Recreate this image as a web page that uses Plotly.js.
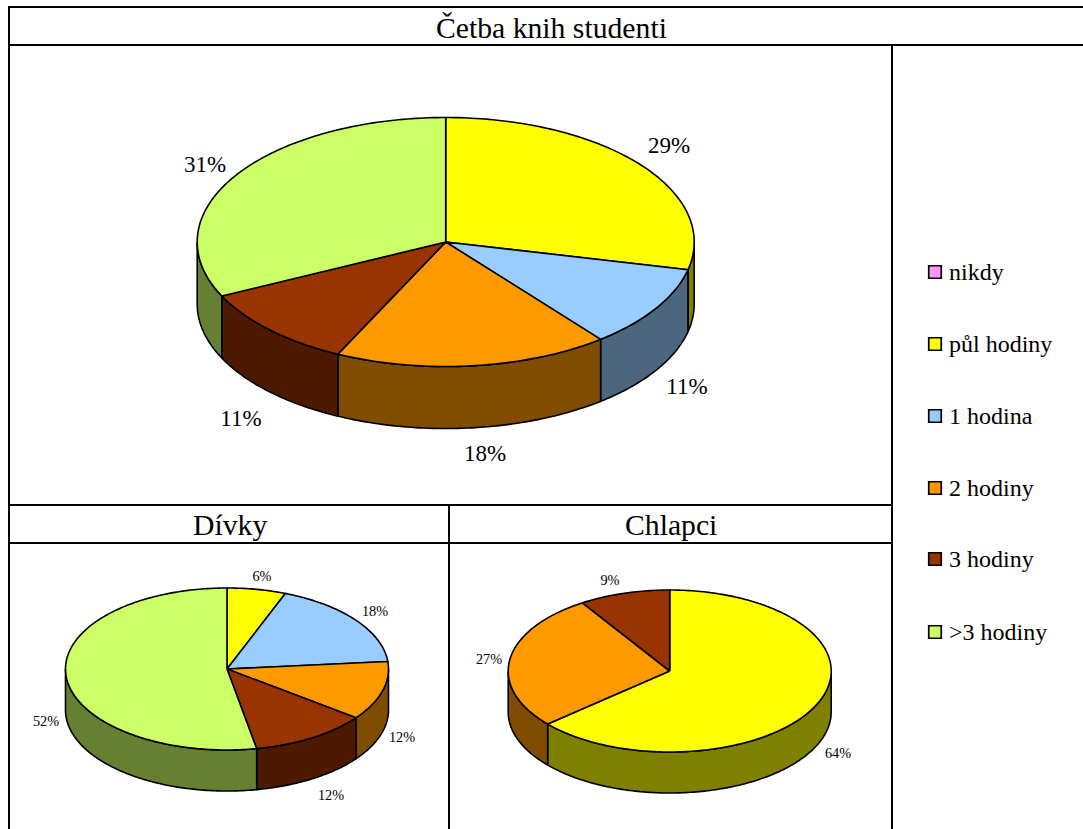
<!DOCTYPE html>
<html>
<head>
<meta charset="utf-8">
<script src="https://cdn.plot.ly/plotly-3.0.1.min.js"></script>
<style>html,body{margin:0;padding:0;background:#fff;overflow:hidden}#chart{width:1083px;height:829px}</style>
</head>
<body>
<div id="chart"></div>
<script>
// ---------- data ----------
const categories = ['nikdy', 'půl hodiny', '1 hodina', '2 hodiny', '3 hodiny', '>3 hodiny'];
const studentsCounts = [0, 8, 3, 5, 3, 9];
const girlsCounts = [0, 1, 3, 2, 2, 9];
const boysCounts = [0, 7, 0, 3, 1, 0];
const studentsLabels = ['', '29%', '11%', '18%', '11%', '31%'];
const girlsLabels = ['', '6%', '18%', '12%', '12%', '52%'];
const boysLabels = ['', '64%', '', '27%', '9%', ''];
const mainTitle = 'Četba knih studenti';
const girlsTitle = 'Dívky';
const boysTitle = 'Chlapci';

// ---------- styles and layout ----------
const topColors = ['#FF99FF', '#FFFF00', '#99CCFF', '#FF9900', '#993300', '#CCFF66'];
const wallColors = ['#804D80', '#808000', '#4D6680', '#804D00', '#4D1A00', '#668033'];
const FONT = '"Liberation Serif", "Times New Roman", serif';
const INK = '#000000';

const pies = [
  { values: studentsCounts, labels: studentsLabels, cx: 445.7, cy: 242, rx: 248.5, ry: 124.5, depth: 62, size: 23,
    at: { 1: [669, 147], 2: [687, 388], 3: [485, 455], 4: [241, 420], 5: [205, 166] } },
  { values: girlsCounts, labels: girlsLabels, cx: 227, cy: 669, rx: 161.5, ry: 81, depth: 41, size: 14.3,
    at: { 1: [262, 577], 2: [375, 612], 3: [402, 738], 4: [331, 796], 5: [46, 722] } },
  { values: boysCounts, labels: boysLabels, cx: 669.7, cy: 671, rx: 161.5, ry: 81, depth: 41, size: 14.3,
    at: { 1: [838, 754], 3: [489, 660], 4: [610, 581] } }
];
const legendYs = [272, 344, 416, 488, 559, 632];
const legendTextYs = [274, 346, 418, 490, 561, 634];

const traces = [];

function point(p, deg, drop) {
  const r = deg * Math.PI / 180;
  return [p.cx + p.rx * Math.sin(r), p.cy - p.ry * Math.cos(r) + drop];
}
function arc(p, from, to, drop) {
  const pts = [], n = Math.max(2, Math.ceil(Math.abs(to - from)));
  for (let i = 0; i <= n; i++) pts.push(point(p, from + (to - from) * i / n, drop));
  return pts;
}
function polygon(pts, color, name) {
  traces.push({
    type: 'scatter', mode: 'lines', name: name,
    x: pts.map(q => q[0]).concat(pts[0][0]),
    y: pts.map(q => q[1]).concat(pts[0][1]),
    fill: 'toself', fillcolor: color,
    line: { color: INK, width: 1.6, simplify: false },
    hoverinfo: 'skip', showlegend: false
  });
}

pies.forEach(p => {
  const total = p.values.reduce((a, b) => a + b, 0);
  const spans = [];
  let acc = 0;
  p.values.forEach((v, i) => {
    if (v > 0) spans.push({ i, from: acc / total * 360, to: (acc + v) / total * 360 });
    acc += v;
  });
  // side walls: only the front half of the disc is visible
  spans.forEach(s => {
    const a = Math.max(s.from, 90), b = Math.min(s.to, 270);
    if (b > a) {
      polygon(arc(p, a, b, 0).concat(arc(p, b, a, p.depth)), wallColors[s.i], categories[s.i]);
    }
  });
  // top faces
  spans.forEach(s => {
    polygon([[p.cx, p.cy]].concat(arc(p, s.from, s.to, 0)), topColors[s.i], categories[s.i]);
  });
  // percentage labels
  const idx = Object.keys(p.at).map(Number);
  traces.push({
    type: 'scatter', mode: 'text',
    x: idx.map(i => p.at[i][0]), y: idx.map(i => p.at[i][1]),
    text: idx.map(i => p.labels[i]),
    textposition: 'middle center',
    textfont: { family: FONT, size: p.size, color: INK },
    hoverinfo: 'skip', showlegend: false
  });
});

// legend keys
categories.forEach((c, i) => {
  traces.push({
    type: 'scatter', mode: 'markers', name: c,
    x: [935], y: [legendYs[i]],
    marker: { symbol: 'square', size: 12.5, color: topColors[i], line: { color: INK, width: 1.7 } },
    hoverinfo: 'skip', showlegend: false
  });
  traces.push({
    type: 'scatter', mode: 'text', name: c,
    x: [949], y: [legendTextYs[i]], text: [c],
    textposition: 'middle right',
    textfont: { family: FONT, size: 24, color: INK },
    hoverinfo: 'skip', showlegend: false
  });
});

// table rules
function rule(x0, y0, x1, y1) {
  return { type: 'line', xref: 'x', yref: 'y', x0, y0, x1, y1, line: { color: INK, width: 2 } };
}
const shapes = [
  rule(9, 7, 1083, 7), rule(9, 45, 1083, 45),
  rule(9, 505, 892, 505), rule(9, 543, 892, 543),
  rule(9, 6, 9, 829), rule(892, 45, 892, 829), rule(449, 505, 449, 829)
];
function heading(text, x, y) {
  return { text, x, y, xref: 'x', yref: 'y', showarrow: false, xanchor: 'center', yanchor: 'middle',
    font: { family: FONT, size: 29.7, color: INK } };
}

const layout = {
  width: 1083, height: 829,
  margin: { l: 0, r: 0, t: 0, b: 0 },
  paper_bgcolor: '#ffffff', plot_bgcolor: '#ffffff',
  showlegend: false,
  xaxis: { range: [0, 1083], visible: false, fixedrange: true },
  yaxis: { range: [829, 0], visible: false, fixedrange: true },
  shapes,
  annotations: [heading(mainTitle, 551, 28), heading(girlsTitle, 230, 525), heading(boysTitle, 671, 525)]
};
Plotly.newPlot('chart', traces, layout, { displayModeBar: false, staticPlot: true });
</script>
</body>
</html>
